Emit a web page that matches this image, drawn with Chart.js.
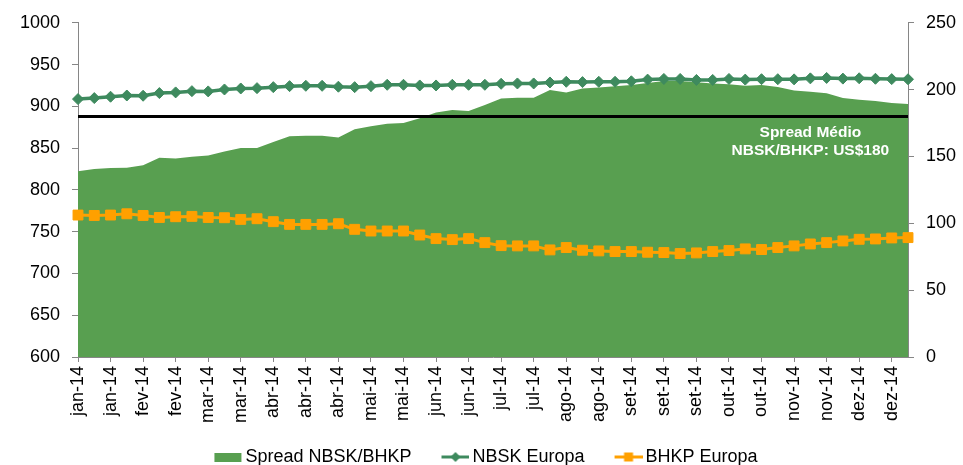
<!DOCTYPE html>
<html>
<head>
<meta charset="utf-8">
<title>Spread NBSK/BHKP</title>
<script src="https://cdn.jsdelivr.net/npm/chart.js@4/dist/chart.umd.min.js"></script>
<style>
  html, body { margin: 0; padding: 0; background: #fff; }
  #wrap { width: 963px; height: 465px; }
</style>
</head>
<body>
<div id="wrap"><canvas id="chart" width="963" height="465"></canvas></div>
<script>
// month labels, one every two weeks
var tickLabels = ['jan-14','jan-14','fev-14','fev-14','mar-14','mar-14','abr-14','abr-14','abr-14',
  'mai-14','mai-14','jun-14','jun-14','jul-14','jul-14','ago-14','ago-14','set-14','set-14','set-14',
  'out-14','out-14','nov-14','nov-14','dez-14','dez-14'];

// weekly values (US$/t)
var spread = [139, 140.6, 141.3, 141.5, 143.5, 149, 148.5, 149.8, 150.8, 153.7,
  156.3, 156.3, 160.8, 165.2, 165.5, 165.6, 164.2, 170.3, 172.7, 174.4,
  175, 178.6, 182.9, 184.7, 184, 188.5, 193.3, 194, 194, 199.8,
  197.9, 200.8, 201.6, 202.5, 203.5, 205, 206.5, 206.5, 205.5, 204.5,
  204, 203, 203.5, 202, 199.3, 198.5, 197.3, 193.8, 192.5, 191.5,
  190, 189.3];

var nbsk = [908.7, 909.9, 911.5, 913, 912.7, 915.9, 916.7, 918.2, 917.9, 920.2,
  921.4, 921.8, 923, 924.2, 924.6, 924.6, 923.5, 923, 924.2, 925.8,
  925.8, 925, 925, 925.8, 925.8, 925.8, 927, 927.4, 927.4, 928.6,
  929.4, 929, 929.4, 929.4, 930, 932, 932.8, 932.8, 931.6, 931.6,
  932.8, 932, 932.5, 932.5, 932.3, 933.5, 934, 933.2, 933.6, 933,
  932.6, 932.4];

var bhkp = [769.9, 769.4, 769.9, 771.4, 769.4, 767, 767.9, 768.3, 767, 766.7,
  764.7, 765.5, 762, 758.7, 758.7, 758.7, 759.5, 752.8, 750.8, 750.8,
  750.8, 746, 741.7, 740.5, 741.7, 736.9, 733.3, 733, 733, 728.2,
  731, 727.8, 727, 726.2, 726.2, 725.4, 725, 723.8, 724.6, 726.2,
  727.4, 729.4, 728.6, 731, 733, 735.3, 736.9, 738.9, 740.9, 741.3,
  742.5, 742.9];

var spreadMedio = 180;
var noteLines = ['Spread Médio', 'NBSK/BHKP: US$180'];
var noteIndex = 45;

var green = '#589F50';
var darkGreen = '#3E8A5E';
var orange = '#FFA000';
var axisGrey = '#868686';

// one label every second week, blank in between
var labels = [];
for (var i = 0; i < spread.length; i++) {
  labels.push(i % 2 === 0 ? tickLabels[i / 2] : '');
}

// small pictures for the legend (line + marker like excel)
// content sits in the right 28px so the gap to the text stays small
function legendIcon(kind) {
  var c = document.createElement('canvas');
  c.width = 43; c.height = 12;
  var g = c.getContext('2d');
  var x0 = 15;
  if (kind === 'area') {
    g.fillStyle = green;
    g.fillRect(x0, 2, 27, 9);
    return c;
  }
  var col = kind === 'nbsk' ? darkGreen : orange;
  g.strokeStyle = col;
  g.fillStyle = col;
  g.lineWidth = 3;
  g.beginPath(); g.moveTo(x0, 6); g.lineTo(x0 + 28, 6); g.stroke();
  g.beginPath();
  if (kind === 'nbsk') {
    g.moveTo(x0 + 14, 1); g.lineTo(x0 + 19, 6); g.lineTo(x0 + 14, 11); g.lineTo(x0 + 9, 6);
  } else {
    g.rect(x0 + 9.5, 1.5, 9, 9);
  }
  g.closePath(); g.fill();
  return c;
}
var icons = [legendIcon('area'), legendIcon('nbsk'), legendIcon('bhkp')];

// average line + white note, drawn right after the area
var avgLine = {
  id: 'avgLine',
  afterDatasetDraw: function(chart, args) {
    if (args.index !== 0) return;
    var ctx = chart.ctx, area = chart.chartArea;
    var y = chart.scales.y2.getPixelForValue(spreadMedio);
    var x = chart.scales.x.getPixelForValue(noteIndex);
    ctx.save();
    ctx.strokeStyle = '#000';
    ctx.lineWidth = 3;
    ctx.beginPath();
    ctx.moveTo(area.left, y);
    ctx.lineTo(area.right, y);
    ctx.stroke();
    ctx.fillStyle = '#fff';
    ctx.font = 'bold 15.5px "Liberation Sans", Arial, sans-serif';
    ctx.textAlign = 'center';
    ctx.textBaseline = 'alphabetic';
    ctx.fillText(noteLines[0], x, y + 21);
    ctx.fillText(noteLines[1], x, y + 39);
    ctx.restore();
  }
};

Chart.defaults.font.family = '"Liberation Sans", Arial, sans-serif';
Chart.defaults.font.size = 18;
Chart.defaults.color = '#000';

new Chart(document.getElementById('chart'), {
  type: 'line',
  data: {
    labels: labels,
    datasets: [
      {
        label: 'Spread NBSK/BHKP',
        data: spread,
        yAxisID: 'y2',
        fill: 'start',
        backgroundColor: green,
        borderWidth: 0,
        pointRadius: 0,
        order: 3
      },
      {
        label: 'NBSK Europa',
        data: nbsk,
        yAxisID: 'y',
        borderColor: darkGreen,
        backgroundColor: darkGreen,
        borderWidth: 3.5,
        pointStyle: 'rectRot',
        pointRadius: 5.5,
        pointBorderWidth: 1,
        order: 1
      },
      {
        label: 'BHKP Europa',
        data: bhkp,
        yAxisID: 'y',
        borderColor: orange,
        backgroundColor: orange,
        borderWidth: 3,
        pointStyle: 'rect',
        pointRadius: 7,
        pointBorderWidth: 1,
        order: 2
      }
    ]
  },
  options: {
    responsive: false,
    animation: false,
    devicePixelRatio: 1,
    layout: { padding: { top: 21, left: 0, right: 0, bottom: 0 } },
    plugins: {
      tooltip: { enabled: false },
      legend: {
        position: 'bottom',
        maxHeight: 38,
        labels: {
          usePointStyle: true,
          pointStyleWidth: 31,
          padding: 21,
          color: '#000',
          font: { size: 18 },
          sort: function(a, b) { return a.datasetIndex - b.datasetIndex; },
          generateLabels: function(chart) {
            var items = Chart.defaults.plugins.legend.labels.generateLabels(chart);
            items.forEach(function(it) { it.pointStyle = icons[it.datasetIndex]; });
            return items;
          }
        }
      }
    },
    scales: {
      x: {
        offset: false,
        afterFit: function(s) { s.height = 70; },
        grid: {
          drawOnChartArea: false,
          tickLength: 5,
          color: function(c) { return c.index % 2 === 0 ? axisGrey : 'rgba(0,0,0,0)'; }
        },
        border: { color: axisGrey },
        ticks: { autoSkip: false, minRotation: 90, maxRotation: 90, padding: 4 }
      },
      y: {
        position: 'left',
        min: 600,
        max: 1000,
        afterFit: function(s) { s.width = 78; },
        grid: { drawOnChartArea: false, tickLength: 6, color: axisGrey },
        border: { color: axisGrey },
        ticks: { stepSize: 50, padding: 12, callback: function(v) { return String(v); } }
      },
      y2: {
        position: 'right',
        min: 0,
        max: 250,
        afterFit: function(s) { s.width = 55; },
        grid: { drawOnChartArea: false, tickLength: 6, color: axisGrey },
        border: { color: axisGrey },
        ticks: { stepSize: 50, padding: 12 }
      }
    }
  },
  plugins: [avgLine]
});
</script>
</body>
</html>
